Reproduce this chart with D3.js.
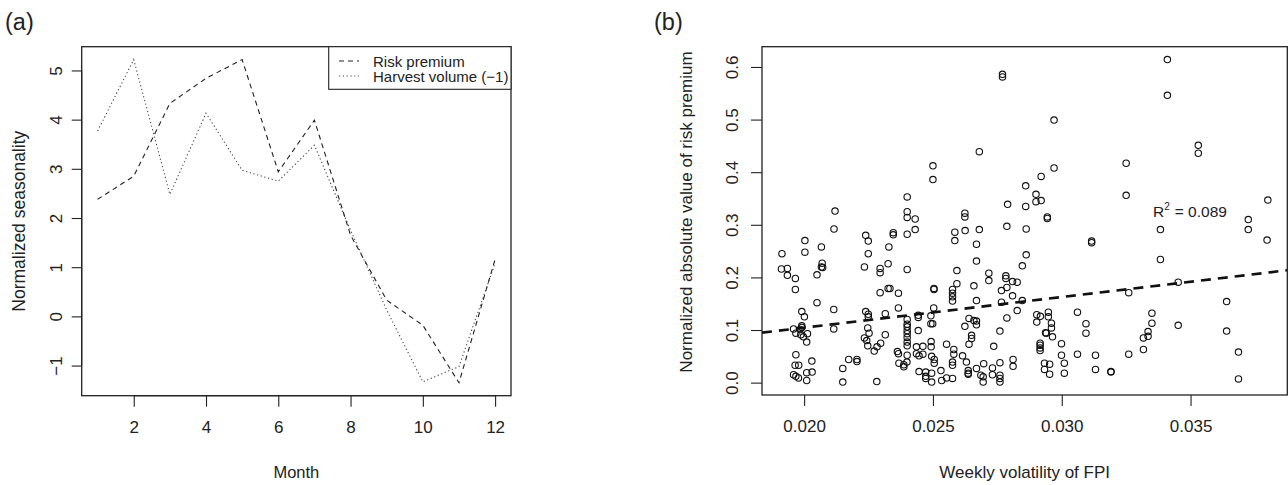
<!DOCTYPE html>
<html>
<head>
<meta charset="utf-8">
<script src="https://cdn.jsdelivr.net/npm/d3@7"></script>
<style>
  html, body { margin: 0; padding: 0; background: #fff; }
  svg { display: block; font-family: "Liberation Sans", Arial, sans-serif; }
  text { fill: #222; }
</style>
</head>
<body>
<svg id="chart" width="1288" height="485"></svg>
<script>
// ---- Panel (a): monthly seasonality ----
const months = [1, 2, 3, 4, 5, 6, 7, 8, 9, 10, 11, 12];
const riskPremium = [2.38, 2.85, 4.33, 4.84, 5.22, 2.94, 3.99, 1.65, 0.33, -0.18, -1.35, 1.16];
const harvestVolume = [3.77, 5.22, 2.48, 4.13, 2.97, 2.75, 3.48, 1.75, 0.13, -1.33, -1.02, 1.08];
const monthTicks = [2, 4, 6, 8, 10, 12];
const seasonTicks = [-1, 0, 1, 2, 3, 4, 5];
const legendLabels = ["Risk premium", "Harvest volume (\u22121)"];

// ---- Panel (b): volatility vs. absolute risk premium ----
const volatility = [
  0.0277, 0.0277, 0.0268, 0.0250, 0.0250, 0.0240, 0.0279, 0.0212, 0.0240, 0.0341,
  0.0341, 0.0297, 0.0353, 0.0353, 0.0325, 0.0297, 0.0292, 0.0286, 0.0290, 0.0290,
  0.0292, 0.0325, 0.0286, 0.0380, 0.02944, 0.02944, 0.02787, 0.02862, 0.03116, 0.03116,
  0.03383, 0.03724, 0.03724, 0.03797, 0.02862, 0.02847, 0.03383, 0.02783, 0.02783, 0.02809,
  0.02827, 0.02787, 0.02766, 0.02809, 0.02847, 0.02766, 0.02827, 0.02787, 0.02760, 0.03260,
  0.03452, 0.03640, 0.03452, 0.03640, 0.03686, 0.03686, 0.03350, 0.03350, 0.03335, 0.03335,
  0.03317, 0.03317, 0.03260, 0.03061, 0.03094, 0.03094, 0.03061, 0.03131, 0.03131, 0.03191,
  0.03191, 0.02999, 0.02999, 0.03010, 0.03010, 0.02903, 0.02917, 0.02948, 0.02948, 0.02903,
  0.02960, 0.02960, 0.02937, 0.02940, 0.02964, 0.02916, 0.02916, 0.02916, 0.02916, 0.02811,
  0.02811, 0.02760, 0.02760, 0.02760, 0.02760, 0.02933, 0.02953, 0.02933, 0.02953, 0.02624,
  0.02624, 0.02585, 0.02625, 0.02680, 0.02585, 0.02669, 0.02669, 0.02593, 0.02717, 0.02717,
  0.02593, 0.02659, 0.02576, 0.02576, 0.02576, 0.02576, 0.02669, 0.02640, 0.02659, 0.02669,
  0.02669, 0.02624, 0.02650, 0.02650, 0.02640, 0.02736, 0.02581, 0.02581, 0.02615, 0.02630,
  0.02576, 0.02576, 0.02697, 0.02669, 0.02637, 0.02637, 0.02637, 0.02731, 0.02686, 0.02695,
  0.02695, 0.02731, 0.02576, 0.02400, 0.02431, 0.02431, 0.02400, 0.02239, 0.02249, 0.02346,
  0.02346, 0.02329, 0.02249, 0.02326, 0.02234, 0.02295, 0.02295, 0.02400, 0.02295, 0.02326,
  0.02333, 0.02366, 0.02504, 0.02504, 0.02366, 0.02239, 0.02249, 0.02249, 0.02315, 0.02503,
  0.02443, 0.02443, 0.02492, 0.02492, 0.02499, 0.02400, 0.02400, 0.02400, 0.02400, 0.02400,
  0.02400, 0.02400, 0.02400, 0.02247, 0.02252, 0.02443, 0.02234, 0.02243, 0.02247, 0.02315,
  0.02297, 0.02283, 0.02272, 0.02362, 0.02366, 0.02436, 0.02461, 0.02436, 0.02446, 0.02461,
  0.02493, 0.02493, 0.02495, 0.02505, 0.02505, 0.02400, 0.02553, 0.02173, 0.02205, 0.02205,
  0.02368, 0.02387, 0.02399, 0.02387, 0.02446, 0.02472, 0.02472, 0.02495, 0.02495, 0.02472,
  0.02534, 0.02553, 0.02531, 0.02282, 0.02150, 0.02150, 0.02116, 0.02003, 0.02067, 0.01914,
  0.02003, 0.01912, 0.01935, 0.01935, 0.02070, 0.02067, 0.02072, 0.02050, 0.01966, 0.01966,
  0.02050, 0.01991, 0.02001, 0.02115, 0.02115, 0.01959, 0.01968, 0.01991, 0.01991, 0.01984,
  0.01987, 0.01997, 0.02013, 0.02010, 0.01968, 0.01965, 0.01979, 0.02030, 0.01959, 0.01968,
  0.01978, 0.02010, 0.02031, 0.02010
];
const absPremium = [
  0.586, 0.581, 0.439, 0.412, 0.386, 0.353, 0.339, 0.326, 0.325, 0.614,
  0.546, 0.499, 0.451, 0.436, 0.417, 0.408, 0.392, 0.374, 0.358, 0.344,
  0.346, 0.356, 0.335, 0.347, 0.315, 0.312, 0.297, 0.292, 0.269, 0.266,
  0.291, 0.310, 0.291, 0.271, 0.243, 0.222, 0.234, 0.203, 0.198, 0.192,
  0.191, 0.181, 0.175, 0.165, 0.156, 0.153, 0.137, 0.123, 0.098, 0.171,
  0.191, 0.154, 0.109, 0.098, 0.058, 0.007, 0.132, 0.113, 0.097, 0.088,
  0.085, 0.063, 0.054, 0.134, 0.112, 0.094, 0.054, 0.052, 0.025, 0.021,
  0.020, 0.074, 0.052, 0.037, 0.018, 0.129, 0.126, 0.134, 0.125, 0.115,
  0.113, 0.104, 0.095, 0.094, 0.087, 0.075, 0.071, 0.066, 0.061, 0.044,
  0.031, 0.038, 0.014, 0.008, 0.001, 0.037, 0.035, 0.025, 0.016, 0.322,
  0.315, 0.286, 0.289, 0.291, 0.270, 0.263, 0.231, 0.213, 0.208, 0.194,
  0.188, 0.184, 0.177, 0.170, 0.163, 0.155, 0.156, 0.122, 0.118, 0.117,
  0.110, 0.107, 0.090, 0.084, 0.073, 0.069, 0.063, 0.054, 0.051, 0.039,
  0.039, 0.033, 0.036, 0.027, 0.023, 0.018, 0.016, 0.028, 0.014, 0.011,
  0.001, 0.015, 0.008, 0.314, 0.311, 0.291, 0.282, 0.280, 0.269, 0.285,
  0.281, 0.258, 0.245, 0.226, 0.220, 0.217, 0.209, 0.215, 0.171, 0.179,
  0.179, 0.170, 0.179, 0.177, 0.142, 0.135, 0.130, 0.125, 0.131, 0.142,
  0.128, 0.124, 0.127, 0.112, 0.112, 0.120, 0.111, 0.106, 0.099, 0.093,
  0.086, 0.077, 0.070, 0.104, 0.094, 0.099, 0.085, 0.080, 0.070, 0.091,
  0.075, 0.068, 0.060, 0.059, 0.055, 0.068, 0.069, 0.055, 0.051, 0.054,
  0.078, 0.068, 0.050, 0.044, 0.037, 0.052, 0.073, 0.044, 0.044, 0.040,
  0.037, 0.034, 0.039, 0.030, 0.021, 0.020, 0.012, 0.018, 0.001, 0.008,
  0.004, 0.009, 0.023, 0.002, 0.027, 0.001, 0.292, 0.270, 0.258, 0.245,
  0.248, 0.216, 0.217, 0.204, 0.227, 0.220, 0.219, 0.205, 0.198, 0.177,
  0.152, 0.135, 0.125, 0.139, 0.102, 0.102, 0.094, 0.108, 0.105, 0.101,
  0.091, 0.087, 0.093, 0.077, 0.053, 0.033, 0.033, 0.041, 0.015, 0.012,
  0.009, 0.019, 0.020, 0.004
];
const volTicks = [0.020, 0.025, 0.030, 0.035];
const premiumTicks = [0.0, 0.1, 0.2, 0.3, 0.4, 0.5, 0.6];
// least-squares fit reported on the panel
const fitIntercept = -0.0118;
const fitSlope = 5.815;
const fitR2 = 0.089;

const svg = d3.select("#chart");
const ink = "#222";

// pad an extent by 4% on each side, as base R plots do
function padded(ext) {
  const d = (ext[1] - ext[0]) * 0.04;
  return [ext[0] - d, ext[1] + d];
}

function drawFrame(g, box) {
  g.append("rect")
    .attr("x", box.left).attr("y", box.top)
    .attr("width", box.right - box.left).attr("height", box.bottom - box.top)
    .attr("fill", "none").attr("stroke", ink).attr("stroke-width", 1.3);
}

// ================= Panel (a) =================
const boxA = { left: 81.7, right: 511, top: 46.7, bottom: 395.7 };
const xA = d3.scaleLinear().domain(padded(d3.extent(months))).range([boxA.left, boxA.right]);
const yA = d3.scaleLinear()
  .domain(padded(d3.extent(riskPremium.concat(harvestVolume))))
  .range([boxA.bottom, boxA.top]);

const gA = svg.append("g");

// bottom axis
const axA = gA.append("g").attr("transform", `translate(0,${boxA.bottom})`)
  .call(d3.axisBottom(xA).tickValues(monthTicks).tickSize(11).tickPadding(14).tickSizeOuter(0));
axA.select(".domain").attr("d", `M${xA(monthTicks[0])},0H${xA(monthTicks[monthTicks.length - 1])}`);
axA.selectAll("line, path").attr("stroke", ink).attr("stroke-width", 1.1);
axA.selectAll("text").attr("font-size", 17).attr("fill", ink)
  .attr("font-family", "Liberation Sans, Arial, sans-serif");

// left axis, labels turned parallel to the axis
const ayA = gA.append("g").attr("transform", `translate(${boxA.left},0)`)
  .call(d3.axisLeft(yA).tickValues(seasonTicks).tickSize(10).tickSizeOuter(0)
    .tickFormat(d => d < 0 ? "\u2212" + Math.abs(d) : String(d)));
ayA.select(".domain").attr("d", `M0,${yA(seasonTicks[0])}V${yA(seasonTicks[seasonTicks.length - 1])}`);
ayA.selectAll("line, path").attr("stroke", ink).attr("stroke-width", 1.1);
ayA.selectAll(".tick text")
  .attr("font-size", 17).attr("fill", ink)
  .attr("font-family", "Liberation Sans, Arial, sans-serif")
  .attr("x", null).attr("dy", null)
  .attr("text-anchor", "middle")
  .attr("transform", "translate(-20,0) rotate(-90)");

// series lines
const lineA = d3.line().x((d, i) => xA(months[i])).y(d => yA(d));
gA.append("path").datum(riskPremium).attr("d", lineA)
  .attr("fill", "none").attr("stroke", ink).attr("stroke-width", 1.1)
  .attr("stroke-dasharray", "5,4");
gA.append("path").datum(harvestVolume).attr("d", lineA)
  .attr("fill", "none").attr("stroke", "#444").attr("stroke-width", 1.1)
  .attr("stroke-dasharray", "1.2,2.6");

drawFrame(gA, boxA);

// legend
const legA = gA.append("g");
legA.append("rect")
  .attr("x", 328.7).attr("y", boxA.top).attr("width", boxA.right - 328.7).attr("height", 42.6)
  .attr("fill", "#fff").attr("stroke", ink).attr("stroke-width", 1.1);
[["5,4", ink], ["1.2,2.6", "#444"]].forEach((s, i) => {
  const yy = 61 + i * 15;
  legA.append("line").attr("x1", 339).attr("x2", 359).attr("y1", yy).attr("y2", yy)
    .attr("stroke", s[1]).attr("stroke-width", 1.1).attr("stroke-dasharray", s[0]);
  legA.append("text").attr("x", 373).attr("y", yy + 5.5)
    .attr("font-size", 15).text(legendLabels[i]);
});

// titles
gA.append("text").attr("x", (boxA.left + boxA.right) / 2).attr("y", 478)
  .attr("text-anchor", "middle").attr("font-size", 16.5).text("Month");
gA.append("text").attr("transform", `translate(25,${(boxA.top + boxA.bottom) / 2}) rotate(-90)`)
  .attr("text-anchor", "middle").attr("font-size", 17.5).text("Normalized seasonality");
gA.append("text").attr("x", 5).attr("y", 30).attr("font-size", 23.5).text("(a)");

// ================= Panel (b) =================
const boxB = { left: 762, right: 1287.3, top: 46.7, bottom: 395 };
const xB = d3.scaleLinear().domain(padded(d3.extent(volatility))).range([boxB.left, boxB.right]);
const yB = d3.scaleLinear().domain(padded(d3.extent(absPremium))).range([boxB.bottom, boxB.top]);

const gB = svg.append("g");

const axB = gB.append("g").attr("transform", `translate(0,${boxB.bottom})`)
  .call(d3.axisBottom(xB).tickValues(volTicks).tickSize(11).tickPadding(14).tickSizeOuter(0)
    .tickFormat(d3.format(".3f")));
axB.select(".domain").remove();
axB.selectAll("line").attr("stroke", ink).attr("stroke-width", 1.1);
axB.selectAll("text").attr("font-size", 17).attr("fill", ink)
  .attr("font-family", "Liberation Sans, Arial, sans-serif");

const ayB = gB.append("g").attr("transform", `translate(${boxB.left},0)`)
  .call(d3.axisLeft(yB).tickValues(premiumTicks).tickSize(11).tickSizeOuter(0)
    .tickFormat(d3.format(".1f")));
ayB.select(".domain").remove();
ayB.selectAll("line").attr("stroke", ink).attr("stroke-width", 1.1);
ayB.selectAll(".tick text")
  .attr("font-size", 17).attr("fill", ink)
  .attr("font-family", "Liberation Sans, Arial, sans-serif")
  .attr("x", null).attr("dy", null)
  .attr("text-anchor", "middle")
  .attr("transform", "translate(-24,0) rotate(-90)");

// scatter points
gB.append("g").selectAll("circle")
  .data(volatility.map((v, i) => [v, absPremium[i]]))
  .join("circle")
  .attr("cx", d => xB(d[0])).attr("cy", d => yB(d[1])).attr("r", 3.2)
  .attr("fill", "none").attr("stroke", "#111").attr("stroke-width", 1.1);

// fitted regression line across the plotting region
const xd = xB.domain();
gB.append("line")
  .attr("x1", xB(xd[0])).attr("y1", yB(fitIntercept + fitSlope * xd[0]))
  .attr("x2", xB(xd[1])).attr("y2", yB(fitIntercept + fitSlope * xd[1]))
  .attr("stroke", "#111").attr("stroke-width", 2.6).attr("stroke-dasharray", "10,7");

drawFrame(gB, boxB);

// R squared annotation
const r2 = gB.append("text").attr("x", 1153).attr("y", 217).attr("font-size", 15.5);
r2.append("tspan").text("R");
r2.append("tspan").attr("font-size", 10).attr("dy", -7).text("2");
r2.append("tspan").attr("dy", 7).attr("dx", 5).text("= " + fitR2.toFixed(3));

// titles
gB.append("text").attr("x", (boxB.left + boxB.right) / 2).attr("y", 478)
  .attr("text-anchor", "middle").attr("font-size", 17).text("Weekly volatility of FPI");
gB.append("text").attr("transform", "translate(692,212) rotate(-90)")
  .attr("text-anchor", "middle").attr("font-size", 17).text("Normalized absolute value of risk premium");
gB.append("text").attr("x", 654).attr("y", 30).attr("font-size", 23.5).text("(b)");
</script>
</body>
</html>
